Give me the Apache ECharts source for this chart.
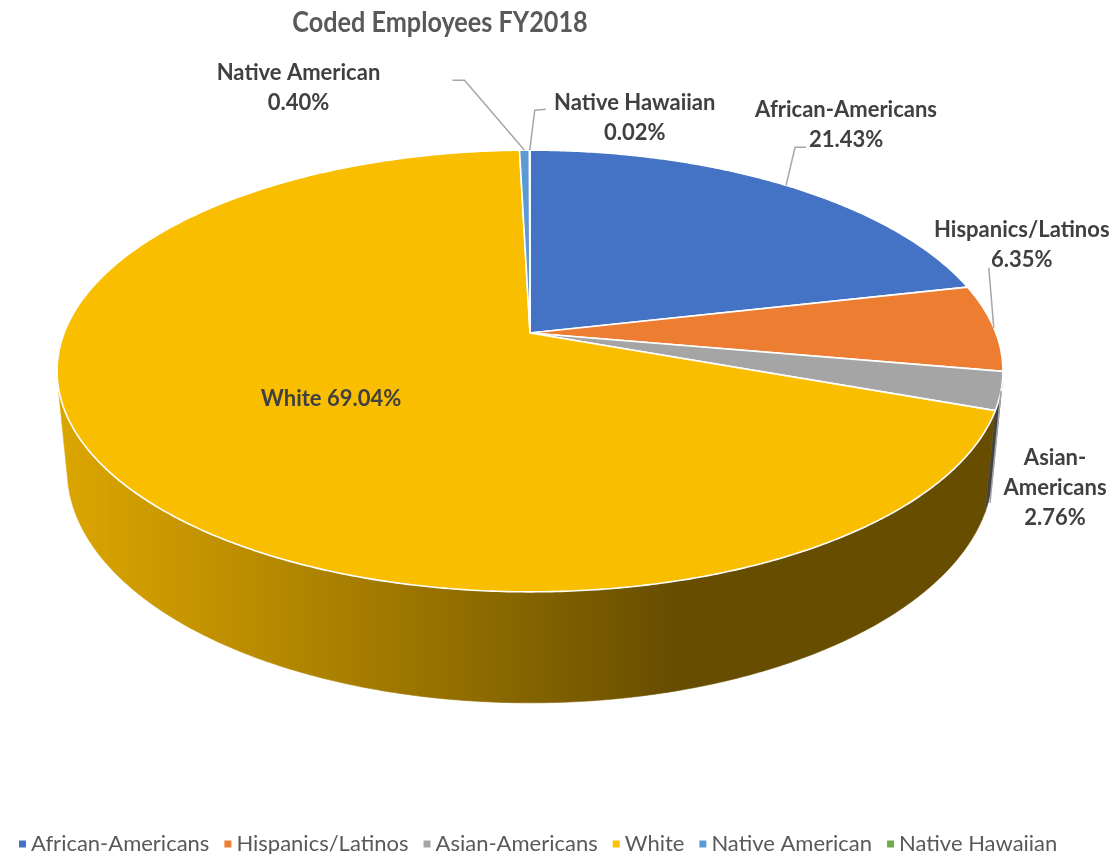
<!DOCTYPE html>
<html><head><meta charset="utf-8">
<script src="https://cdn.jsdelivr.net/npm/echarts@6.0.0/dist/echarts.min.js"></script>
<style>html,body{margin:0;padding:0;background:#fff}#c{width:1117px;height:854px}</style>
</head><body><div id="c"></div>
<script>
// ---------------- data ----------------
const titleText = 'Coded Employees FY2018';
const categories = ['African-Americans', 'Hispanics/Latinos', 'Asian-Americans', 'White', 'Native American', 'Native Hawaiian'];
const percents = [21.43, 6.35, 2.76, 69.04, 0.40, 0.02];
const labelLines = [
  ['African-Americans', '21.43%'],
  ['Hispanics/Latinos', '6.35%'],
  ['Asian-', 'Americans', '2.76%'],
  ['White 69.04%'],
  ['Native American', '0.40%'],
  ['Native Hawaiian', '0.02%']
];
const colors = ['#4472C4', '#ED7D31', '#A5A5A5', '#FFC000', '#5B9BD5', '#70AD47'];

// ---------------- layout / styles ----------------
const GEO = { cx: 530, cy: 333, F: 2405, L: 5.162, sinP: 0.46, cosP: 0.8879, h: 0.2414 };
// label placement relative to the slice anchor (outer edge at mid-angle)
const labelLayout = [
  { dx: 60, dy: -60, leader: [[9, -38], [20, -38]] },
  { dx: 28, dy: -83, leader: [[-5, -60]] },
  { dx: 54, dy: 97, leader: [[-11, 112]] },
  { inside: 0.5 },
  { dx: -226, dy: -62, leader: [[-60, -70], [-72, -70]] },
  { dx: 105, dy: -32, leader: [[5, -40], [16, -41]] }
];
const FONT = 'Lato, "Open Sans", sans-serif';

function proj(r, thDeg, z) {
  const t = thDeg * Math.PI / 180;
  const X = r * Math.sin(t), Y = r * Math.cos(t);
  const Zc = GEO.L + Y * GEO.cosP - z * GEO.sinP;
  const Yc = Y * GEO.sinP + z * GEO.cosP;
  return [GEO.cx + GEO.F * X / Zc, GEO.cy - GEO.F * Yc / Zc];
}
const total = percents.reduce((a, b) => a + b, 0);
const starts = [], ends = [];
let acc = 0;
percents.forEach(p => { starts.push(acc / total * 360); acc += p; ends.push(acc / total * 360); });
const yLim = -1 / (GEO.L * GEO.cosP);
const VIS0 = Math.acos(yLim) * 180 / Math.PI, VIS1 = 360 - VIS0;

function shade(hex, f) {
  const n = parseInt(hex.slice(1), 16);
  const r = Math.round(((n >> 16) & 255) * f), g = Math.round(((n >> 8) & 255) * f), b = Math.round((n & 255) * f);
  return 'rgb(' + r + ',' + g + ',' + b + ')';
}
function shadeFactor(th) {
  const c = Math.cos((th - 255) * Math.PI / 180);
  return 0.40 + 0.46 * Math.max(0, c);
}

function renderItem(params, api) {
  const i = params.dataIndex;
  const a0 = starts[i], a1 = ends[i];
  const children = [];
  // side wall
  const s0 = Math.max(a0, VIS0), s1 = Math.min(a1, VIS1);
  if (s1 > s0) {
    const n = Math.max(2, Math.ceil((s1 - s0) / 0.5));
    const pts = [];
    for (let k = 0; k <= n; k++) pts.push(proj(1, s0 + (s1 - s0) * k / n, 0));
    for (let k = n; k >= 0; k--) pts.push(proj(1, s0 + (s1 - s0) * k / n, -GEO.h));
    const xs = [];
    for (let k = 0; k <= n; k++) { const th = s0 + (s1 - s0) * k / n; xs.push([proj(1, th, 0)[0], shadeFactor(th)]); }
    let xmin = Infinity, xmax = -Infinity;
    xs.forEach(p => { xmin = Math.min(xmin, p[0]); xmax = Math.max(xmax, p[0]); });
    xs.sort((p, q) => p[0] - q[0]);
    const stops = xs.map(p => ({ offset: xmax > xmin ? (p[0] - xmin) / (xmax - xmin) : 0, color: shade(colors[i], p[1]) }));
    const grad = { type: 'linear', x: xmin, y: 0, x2: xmax, y2: 0, global: true, colorStops: stops };
    children.push({ type: 'polygon', z2: 1, shape: { points: pts }, style: { fill: grad, stroke: grad, lineWidth: 0.6 } });
  }
  // top face
  const tp = [proj(0, 0, 0)];
  const m = Math.max(2, Math.ceil((a1 - a0) / 0.5));
  for (let k = 0; k <= m; k++) tp.push(proj(1, a0 + (a1 - a0) * k / m, 0));
  children.push({ type: 'polygon', z2: 10, shape: { points: tp },
    style: { fill: colors[i] === '#FFC000' ? '#FABE00' : colors[i], stroke: '#ffffff', lineWidth: 1.6, lineJoin: 'round' } });
  // label
  const lay = labelLayout[i];
  const mid = (a0 + a1) / 2;
  let tx, ty;
  if (lay.inside) {
    const p = proj(lay.inside, mid, 0); tx = p[0]; ty = p[1];
  } else {
    const anc = proj(1, mid, 0);
    tx = anc[0] + lay.dx; ty = anc[1] + lay.dy;
    const lp = [anc].concat(lay.leader.map(d => [anc[0] + d[0], anc[1] + d[1]]));
    children.push({ type: 'polyline', z2: 15, shape: { points: lp }, style: { stroke: '#A6A6A6', lineWidth: 1.5, fill: null } });
  }
  children.push({ type: 'text', z2: 20, style: {
    text: labelLines[i].join('\n'), x: tx, y: ty, align: 'center', verticalAlign: 'middle',
    font: 'bold 22px ' + FONT, fill: '#404040', lineHeight: 30 } });
  return { type: 'group', children };
}

const chart = echarts.init(document.getElementById('c'), null, { renderer: 'canvas' });
chart.setOption({
  animation: false,
  backgroundColor: '#ffffff',
  graphic: [{
    type: 'text', x: 440, y: 23, scaleX: 0.87, scaleY: 1, silent: true,
    style: { text: titleText, align: 'center', verticalAlign: 'middle',
      font: 'bold 29px ' + FONT, fill: '#595959' }
  }],
  legend: { data: categories, left: 14, top: 828, icon: 'rect', itemWidth: 7, itemHeight: 7, itemGap: 15,
    textStyle: { fontFamily: FONT, fontSize: 22, color: '#595959' } },
  series: [
    { type: 'custom', coordinateSystem: 'none', renderItem: renderItem, silent: true,
      data: percents.map((p, i) => ({ name: categories[i], value: p })) },
    { type: 'pie', radius: 0, center: [-200, -200], silent: true, label: { show: false }, labelLine: { show: false },
      data: categories.map((c, i) => ({ name: c, value: percents[i], itemStyle: { color: colors[i] } })) }
  ]
});
</script></body></html>
